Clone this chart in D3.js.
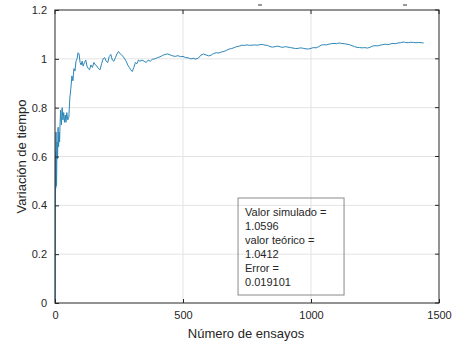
<!DOCTYPE html>
<html>
<head>
<meta charset="utf-8">
<script src="https://cdn.jsdelivr.net/npm/d3@7"></script>
<style>
  body { margin: 0; background: #fff; }
  text { font-family: "Liberation Sans", Arial, sans-serif; }
</style>
</head>
<body>
<div id="chart"></div>
<script>
// running estimate vs. number of trials
const trials = [1,2,3,4,5,6,8,10,12,14,16,18,20,22,25,28,31,34,37,40,43,46,50,54,58,62,66,70,74,78,82,86,90,94,98,
  102,106,110,115,120,125,130,135,140,146,152,158,164,170,176,182,188,194,200,206,212,218,224,230,236,242,248,254,260,
  266,272,278,284,290,296,302,308,314,320,326,332,340,348,356,364,372,380,390,400,410,420,430,440,450,460,470,480,490,
  500,510,520,530,540,550,560,570,580,590,600,610,620,630,640,650,660,670,680,690,700,710,720,730,740,750,760,770,780,
  790,800,810,820,830,840,850,860,870,880,890,900,910,920,930,940,950,960,970,980,990,1000,1010,1020,1030,1040,1050,
  1060,1070,1080,1090,1100,1110,1120,1130,1140,1150,1160,1170,1180,1190,1200,1210,1220,1230,1240,1250,1260,1270,1280,
  1290,1300,1310,1320,1330,1340,1350,1360,1370,1380,1390,1400,1410,1420,1430,1440];
const values = [0.0,0.62,0.47,0.70,0.55,0.48,0.66,0.59,0.72,0.64,0.70,0.66,0.74,0.79,0.73,0.80,0.75,0.78,0.74,0.77,0.74,0.78,0.75,0.76,
  0.84,0.88,0.93,0.91,0.96,0.95,0.99,1.00,1.025,1.02,0.985,0.975,0.99,0.97,0.985,0.995,0.97,0.96,0.955,0.975,0.965,0.985,
  0.975,0.97,0.96,0.955,0.98,1.0,1.005,0.99,0.985,1.01,1.018,0.995,0.99,1.005,1.02,1.03,1.022,1.015,1.01,1.0,0.99,0.975,
  0.965,0.955,0.948,0.965,0.985,0.98,0.995,0.99,0.995,0.99,0.985,0.995,0.99,0.998,1.0,1.005,1.008,1.014,1.018,1.02,1.016,
  1.012,1.01,1.013,1.009,1.01,1.005,1.004,1.0,1.002,0.999,1.003,1.015,1.02,1.016,1.012,1.015,1.022,1.025,1.024,1.028,1.03,
  1.035,1.04,1.042,1.046,1.05,1.052,1.056,1.055,1.057,1.055,1.056,1.057,1.056,1.058,1.059,1.056,1.055,1.05,1.048,1.05,
  1.052,1.049,1.047,1.05,1.048,1.046,1.044,1.042,1.043,1.045,1.043,1.041,1.04,1.043,1.046,1.045,1.05,1.056,1.058,1.057,
  1.06,1.062,1.063,1.062,1.065,1.063,1.062,1.06,1.058,1.054,1.05,1.047,1.046,1.045,1.046,1.044,1.047,1.052,1.054,1.053,
  1.056,1.058,1.06,1.058,1.061,1.063,1.062,1.065,1.066,1.069,1.067,1.066,1.068,1.067,1.066,1.067,1.066,1.065];
const xTicks = [0, 500, 1000, 1500];
const yTicks = [0, 0.2, 0.4, 0.6, 0.8, 1, 1.2];
const boxLines = ["Valor simulado =", "1.0596", "valor teórico =", "1.0412", "Error =", "0.019101"];

const width = 454, height = 345;
const margin = {top: 10, right: 15, bottom: 42, left: 55};
const w = width - margin.left - margin.right, h = height - margin.top - margin.bottom;

const svg = d3.select("#chart").append("svg")
  .attr("width", width).attr("height", height);
const g = svg.append("g")
  .attr("transform", "translate(" + margin.left + "," + margin.top + ")");

const x = d3.scaleLinear().domain([0, 1500]).range([0, w]);
const y = d3.scaleLinear().domain([0, 1.2]).range([h, 0]);

// grid
g.selectAll(".gx").data(xTicks.slice(1, -1)).enter().append("line")
  .attr("x1", d => x(d)).attr("x2", d => x(d)).attr("y1", 0).attr("y2", h)
  .attr("stroke", "#e3e3e3").attr("stroke-width", 1);
g.selectAll(".gy").data(yTicks.slice(1, -1)).enter().append("line")
  .attr("y1", d => y(d)).attr("y2", d => y(d)).attr("x1", 0).attr("x2", w)
  .attr("stroke", "#e3e3e3").attr("stroke-width", 1);

// annotation box (transparent, drawn under the line)
const bx = x(715), by = y(0.43);
g.append("rect").attr("x", bx).attr("y", by).attr("width", 106).attr("height", 97)
  .attr("fill", "none").attr("stroke", "#8a8a8a").attr("stroke-width", 1);
g.selectAll(".bt").data(boxLines).enter().append("text")
  .attr("x", bx + 7).attr("y", (d, i) => by + 18 + i * 14)
  .attr("font-size", 11).attr("fill", "#262626").text(d => d);

// data line
const line = d3.line().x((d, i) => x(trials[i])).y(d => y(d));
g.append("path").datum(values)
  .attr("d", line).attr("fill", "none")
  .attr("stroke", "#2b86b8").attr("stroke-width", 1);

// axes
const xAxis = g.append("g").attr("transform", "translate(0," + h + ")")
  .call(d3.axisBottom(x).tickValues(xTicks).tickSize(-4).tickPadding(8).tickFormat(d3.format("d")));
const yAxis = g.append("g")
  .call(d3.axisLeft(y).tickValues(yTicks).tickSize(-4).tickPadding(8).tickFormat(d => d));
[xAxis, yAxis].forEach(a => {
  a.select(".domain").remove();
  a.selectAll("line").attr("stroke", "#262626");
  a.selectAll("text").attr("font-size", 11).attr("fill", "#262626")
    .style("font-family", "Liberation Sans, Arial, sans-serif");
});
// right side ticks
g.selectAll(".ry").data(yTicks).enter().append("line")
  .attr("x1", w).attr("x2", w - 4).attr("y1", d => y(d)).attr("y2", d => y(d))
  .attr("stroke", "#262626");
g.selectAll(".tx").data(xTicks).enter().append("line")
  .attr("x1", d => x(d)).attr("x2", d => x(d)).attr("y1", 0).attr("y2", 4)
  .attr("stroke", "#262626");

// frame
g.append("rect").attr("width", w).attr("height", h)
  .attr("fill", "none").attr("stroke", "#262626").attr("stroke-width", 1);

// axis labels
svg.append("text").attr("x", margin.left + w / 2 - 1).attr("y", 338)
  .attr("text-anchor", "middle").attr("font-size", 13).attr("fill", "#262626")
  .text("Número de ensayos");
svg.append("text")
  .attr("transform", "translate(26," + (margin.top + h / 2) + ")rotate(-90)")
  .attr("text-anchor", "middle").attr("font-size", 13).attr("fill", "#262626")
  .text("Variación de tiempo");

// cut-off marks above the frame
svg.selectAll(".cut").data([260, 405]).enter().append("line")
  .attr("x1", d => d - 2).attr("x2", d => d + 2).attr("y1", 5).attr("y2", 5)
  .attr("stroke", "#333").attr("stroke-width", 1);
</script>
</body>
</html>
